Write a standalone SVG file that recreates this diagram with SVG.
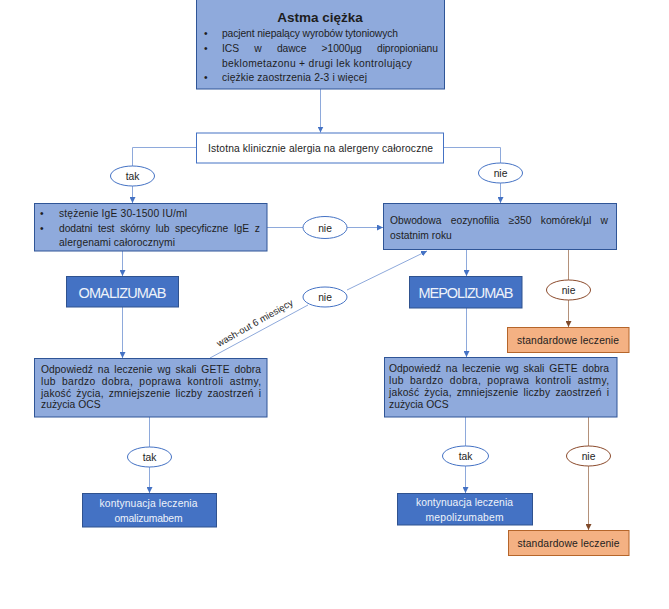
<svg xmlns="http://www.w3.org/2000/svg" width="669" height="609" viewBox="0 0 669 609">
<style>
.t{font-family:"Liberation Sans",Arial,sans-serif;font-size:10.3px;fill:#1e1e1e}
.w{fill:#EEF2FA}
.c{text-anchor:middle}
.b13{font-size:13.5px;font-weight:bold}
.big{font-size:14.5px}
.sm{font-size:9.5px}
.box{fill:#8FAADC;stroke:#2F5597;stroke-width:1}
.dark{fill:#4472C4;stroke:#2F528F;stroke-width:1}
.plain{fill:#FFFFFF;stroke:#4472C4;stroke-width:1}
.orange{fill:#F4B183;stroke:#B5652A;stroke-width:1}
.ell{fill:#FFFFFF;stroke:#4472C4;stroke-width:1}
.bell{fill:#FFFFFF;stroke:#8B4A2B;stroke-width:1}
.ln{fill:none;stroke:#8EA9DB;stroke-width:1}
.bln{fill:none;stroke:#B4917A;stroke-width:1}
</style>
<defs>
<marker id="ab" viewBox="0 0 6 6" refX="6" refY="3" markerWidth="6" markerHeight="6" markerUnits="userSpaceOnUse" orient="auto">
<path d="M0,0 L6,3 L0,6 Z" fill="#4472C4"/>
</marker>
<marker id="ar" viewBox="0 0 6 6" refX="6" refY="3" markerWidth="6" markerHeight="6" markerUnits="userSpaceOnUse" orient="auto">
<path d="M0,0 L6,3 L0,6 Z" fill="#7F4A2A"/>
</marker>
</defs>
<rect x="0" y="0" width="669" height="609" fill="#FFFFFF"/>

<g id="connectors">
<path class="ln" d="M320.5 89 V132.5" marker-end="url(#ab)"/>
<path class="ln" d="M196 147.5 H132.5 V166"/>
<path class="ln" d="M132.5 186 V203" marker-end="url(#ab)"/>
<path class="ln" d="M443 147.5 H500.5 V163"/>
<path class="ln" d="M500.5 183 V203" marker-end="url(#ab)"/>
<path class="ln" d="M267 227.5 H303"/>
<path class="ln" d="M347 227.5 H383" marker-end="url(#ab)"/>
<path class="ln" d="M122.5 251 V276" marker-end="url(#ab)"/>
<path class="ln" d="M122.5 307 V358" marker-end="url(#ab)"/>
<path class="ln" d="M210 358 L308 305"/>
<path class="ln" d="M347 290 L427 251" marker-end="url(#ab)"/>
<path class="ln" d="M466.5 249 V276" marker-end="url(#ab)"/>
<path class="ln" d="M466.5 308 V357" marker-end="url(#ab)"/>
<path class="bln" d="M568.5 249 V280"/>
<path class="bln" d="M568.5 300 V327" marker-end="url(#ar)"/>
<path class="ln" d="M149.5 417 V447"/>
<path class="ln" d="M149.5 467 V493" marker-end="url(#ab)"/>
<path class="ln" d="M465.5 417 V446"/>
<path class="ln" d="M465.5 466 V493" marker-end="url(#ab)"/>
<path class="bln" d="M588.5 417 V446"/>
<path class="bln" d="M588.5 466 V530" marker-end="url(#ar)"/>
<text class="t sm" x="219" y="347" textLength="86" transform="rotate(-29.5 219 347)">wash-out 6 miesięcy</text>
</g>

<g id="astma">
<rect class="box" x="196.5" y="-1" width="248" height="90"/>
<text class="t c b13" x="320" y="22">Astma ciężka</text>
<text class="t" x="204" y="37">•</text>
<text class="t" x="222" y="37" textLength="176">pacjent niepalący wyrobów tytoniowych</text>
<text class="t" x="204" y="52">•</text>
<text class="t" x="222" y="52" word-spacing="12.5" textLength="216">ICS w dawce &gt;1000µg dipropionianu</text>
<text class="t" x="222" y="66.5" textLength="190">beklometazonu  + drugi lek kontrolujący</text>
<text class="t" x="204" y="81">•</text>
<text class="t" x="222" y="81" textLength="145">ciężkie zaostrzenia 2-3 i więcej</text>
</g>

<g id="alergia">
<rect class="plain" x="196.5" y="133" width="247" height="30"/>
<text class="t" x="208" y="151.5" textLength="225">Istotna klinicznie alergia na alergeny całoroczne</text>
</g>

<g id="tak1">
<ellipse class="ell" cx="132.5" cy="176" rx="22" ry="10"/>
<text class="t c" x="132.5" y="180">tak</text>
</g>

<g id="nie1">
<ellipse class="ell" cx="500.5" cy="173" rx="22" ry="10"/>
<text class="t c" x="500.5" y="177">nie</text>
</g>

<g id="ige">
<rect class="box" x="34.5" y="203.5" width="232.5" height="47.5"/>
<text class="t" x="40" y="217">•</text>
<text class="t" x="59" y="217" textLength="128">stężenie IgE 30-1500 IU/ml</text>
<text class="t" x="40" y="231.5">•</text>
<text class="t" x="59" y="231.5" word-spacing="3" textLength="201">dodatni test skórny lub specyficzne IgE z</text>
<text class="t" x="59" y="245.5" textLength="116">alergenami całorocznymi</text>
</g>

<g id="nie2">
<ellipse class="ell" cx="325" cy="227.5" rx="22" ry="11"/>
<text class="t c" x="325" y="231.5">nie</text>
</g>

<g id="eozynofilia">
<rect class="box" x="383.5" y="203.5" width="233" height="46"/>
<text class="t" x="390" y="224" word-spacing="6.5" textLength="218">Obwodowa eozynofilia ≥350 komórek/µl w</text>
<text class="t" x="390" y="239">ostatnim roku</text>
</g>

<g id="omalizumab">
<rect class="dark" x="66.5" y="276.5" width="112" height="30.5"/>
<text class="t c w big" x="122.5" y="297.5" textLength="88">OMALIZUMAB</text>
</g>

<g id="nie3">
<ellipse class="ell" cx="325" cy="297" rx="22" ry="10"/>
<text class="t c" x="325" y="301">nie</text>
</g>

<g id="mepolizumab">
<rect class="dark" x="409.5" y="276.5" width="112.5" height="31.5"/>
<text class="t c w big" x="466" y="298" textLength="95">MEPOLIZUMAB</text>
</g>

<g id="nie4">
<ellipse class="bell" cx="568.5" cy="290" rx="22" ry="10"/>
<text class="t c" x="568.5" y="294">nie</text>
</g>

<g id="standard1">
<rect class="orange" x="507.5" y="327.5" width="121.5" height="25"/>
<text class="t c" x="568" y="343.5" textLength="102">standardowe leczenie</text>
</g>

<g id="odpowiedz1">
<rect class="box" x="34.5" y="358.5" width="232.5" height="58.5"/>
<text class="t" x="41" y="372.5" word-spacing="2" textLength="220">Odpowiedź na leczenie wg skali GETE dobra</text>
<text class="t" x="41" y="384.5" word-spacing="3" textLength="220">lub bardzo dobra, poprawa kontroli astmy,</text>
<text class="t" x="41" y="396.5" word-spacing="2" textLength="220">jakość życia, zmniejszenie liczby zaostrzeń i</text>
<text class="t" x="41" y="408">zużycia OCS</text>
</g>

<g id="odpowiedz2">
<rect class="box" x="384.5" y="357.5" width="232.5" height="59.5"/>
<text class="t" x="389" y="372" word-spacing="2" textLength="220">Odpowiedź na leczenie wg skali GETE dobra</text>
<text class="t" x="389" y="384" word-spacing="3" textLength="220">lub bardzo dobra, poprawa kontroli astmy,</text>
<text class="t" x="389" y="396" word-spacing="2" textLength="220">jakość życia, zmniejszenie liczby zaostrzeń i</text>
<text class="t" x="389" y="407.5">zużycia OCS</text>
</g>

<g id="tak2">
<ellipse class="ell" cx="149.5" cy="457" rx="22" ry="10"/>
<text class="t c" x="149.5" y="461">tak</text>
</g>

<g id="tak3">
<ellipse class="ell" cx="465.5" cy="456" rx="23" ry="10"/>
<text class="t c" x="465.5" y="460">tak</text>
</g>

<g id="nie5">
<ellipse class="bell" cx="588.5" cy="456" rx="22" ry="10"/>
<text class="t c" x="588.5" y="460">nie</text>
</g>

<g id="kontynuacja1">
<rect class="dark" x="82.5" y="493.5" width="134" height="33.5"/>
<text class="t c w" x="148.5" y="506.5" textLength="98">kontynuacja leczenia</text>
<text class="t c w" x="148.5" y="521.5" textLength="68">omalizumabem</text>
</g>

<g id="kontynuacja2">
<rect class="dark" x="397.5" y="493.5" width="135" height="31.5"/>
<text class="t c w" x="464.5" y="506" textLength="97">kontynuacja leczenia</text>
<text class="t c w" x="464.5" y="520.5" textLength="78">mepolizumabem</text>
</g>

<g id="standard2">
<rect class="orange" x="508.5" y="530.5" width="120.5" height="25"/>
<text class="t c" x="568.5" y="546.5" textLength="102">standardowe leczenie</text>
</g>
</svg>
